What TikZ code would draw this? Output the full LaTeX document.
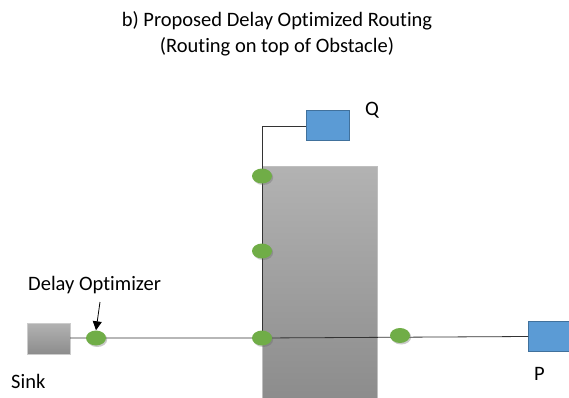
\documentclass[tikz,border=0pt]{standalone}
\usepackage{fontspec}
\setmainfont{Carlito}[Ligatures=NoCommon]
\usetikzlibrary{shadows,arrows.meta,shapes.geometric}
\definecolor{pinfill}{HTML}{5B9BD5}
\definecolor{pinedge}{HTML}{41719C}
\definecolor{dotgreen}{HTML}{70AD47}
\begin{document}
\begin{tikzpicture}[x=1pt,y=-1pt,
  wire/.style={draw=black!80, line width=0.8pt},
  pin/.style={shape=rectangle, draw=pinedge, fill=pinfill, line width=1pt, minimum width=43pt, minimum height=30pt, inner sep=0pt},
  optdot/.style={ellipse, fill=dotgreen, draw=none, minimum width=20pt, minimum height=15pt, inner sep=0pt,
    drop shadow={shadow xshift=1.2pt, shadow yshift=-1.5pt, opacity=0.35, fill=black!60}},
  lbl/.style={font=\fontsize{20.5}{24}\selectfont, text=black, inner sep=0pt}
]
\useasboundingbox (0,0) rectangle (569,398);

% title
\node[lbl, anchor=base] (title1) at (277,27) {b) Proposed Delay Optimized Routing};
\node[lbl, anchor=base] (title2) at (277,53) {(Routing on top of Obstacle)};

% obstacle
\shade[top color=black!30, bottom color=black!45, draw=black!25, line width=0.4pt] (262,166) rectangle (377,398);

% terminals
\node[pin] (Q) at (327.5,126) {};
\node[pin, anchor=west] (P) at (528,336.5) {};
\shade[top color=black!30, bottom color=black!45, draw=black!20, line width=0.4pt] (27,323) rectangle (70,354);
\node[inner sep=0pt, minimum width=43pt, minimum height=31pt] (sink) at (48.5,338.5) {};

% routing
\coordinate (corner) at (262,126);
\coordinate (junction) at (262,338);
\draw[wire] (Q.west) -- (corner) -- (junction);
\draw[wire] (sink.east |- junction) -- (junction) -- (P.west);

% delay optimizers
\node[optdot] (d1) at (262,176) {};
\node[optdot] (d2) at (262,251) {};
\node[optdot] (d3) at (262,338) {};
\node[optdot] (d4) at (400,335.5) {};
\node[optdot] (d5) at (96,338) {};

% labels
\node[lbl, anchor=base west] (qlbl) at (365,116) {Q};
\node[lbl, anchor=base west] (plbl) at (534,380) {P};
\node[lbl, anchor=base west] (slbl) at (11,388) {Sink};
\node[lbl, anchor=base west] (dlbl) at (28,290) {Delay Optimizer};
\coordinate (arrowtail) at (100,302);
\draw[black, line width=0.8pt, -{Triangle[length=9pt,width=9pt]}] (arrowtail) -- (d5.north);
\end{tikzpicture}
\end{document}
